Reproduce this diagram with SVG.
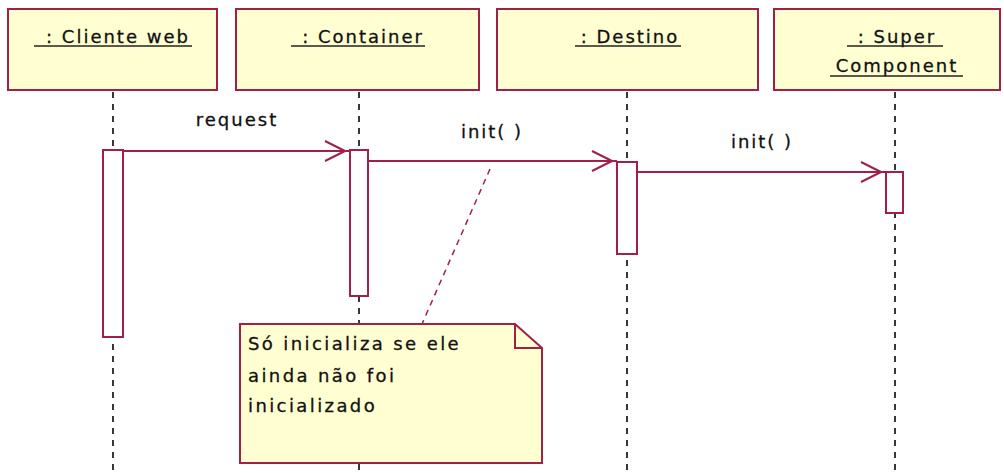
<svg xmlns="http://www.w3.org/2000/svg" width="1004" height="473" viewBox="0 0 1004 473">
<style>
.box{fill:#FFFFD2;stroke:#A0204A;stroke-width:2}
.t{font-family:"DejaVu Sans",sans-serif;font-size:18px;fill:#111;letter-spacing:2px;stroke:#111;stroke-width:0.3}
.ul{stroke:#222;stroke-width:1.5}
.life{stroke:#222;stroke-width:1.8;stroke-dasharray:6,6}
.act{fill:#fff;stroke:#A0204A;stroke-width:2}
.msg{stroke:#A0204A;stroke-width:2;fill:none}
.anchor{stroke:#A0204A;stroke-width:1.5;stroke-dasharray:6,5;fill:none}
</style>
<rect width="1004" height="473" fill="#fff"/>
<g id="lifelines">
<line class="life" x1="113" y1="92" x2="113" y2="473"/>
<line class="life" x1="359" y1="92" x2="359" y2="473"/>
<line class="life" x1="627" y1="92" x2="627" y2="473"/>
<line class="life" x1="895" y1="92" x2="895" y2="473"/>
</g>
<g id="obj-cliente">
<rect class="box" x="8" y="9" width="209" height="81"/>
<text class="t" x="118" y="43" text-anchor="middle">: Cliente web</text>
<line class="ul" x1="34" y1="46" x2="192" y2="46"/>
</g>
<g id="obj-container">
<rect class="box" x="236" y="9" width="243" height="81"/>
<text class="t" x="363" y="43" text-anchor="middle">: Container</text>
<line class="ul" x1="291" y1="46" x2="425" y2="46"/>
</g>
<g id="obj-destino">
<rect class="box" x="497" y="9" width="261" height="81"/>
<text class="t" x="630" y="43" text-anchor="middle">: Destino</text>
<line class="ul" x1="575" y1="46" x2="681" y2="46"/>
</g>
<g id="obj-super">
<rect class="box" x="774" y="9" width="226" height="81"/>
<text class="t" x="897" y="43" text-anchor="middle">: Super</text>
<line class="ul" x1="847" y1="46" x2="943" y2="46"/>
<text class="t" x="897" y="72" text-anchor="middle">Component</text>
<line class="ul" x1="830" y1="76" x2="963" y2="76"/>
</g>
<g id="activations">
<rect class="act" x="103" y="150" width="20" height="187"/>
<rect class="act" x="350" y="150" width="18" height="146"/>
<rect class="act" x="617" y="162" width="20" height="92"/>
<rect class="act" x="886" y="172" width="17" height="41"/>
</g>
<g id="connectors">
<path class="msg" d="M123 151 H350 M345 151 L325 141 M345 151 L325 161"/>
<path class="msg" d="M368 161 H617 M612 161 L592 151 M612 161 L592 171"/>
<path class="msg" d="M637 172 H886 M881 172 L861 162 M881 172 L861 182"/>
<line class="anchor" x1="490" y1="169" x2="422" y2="324"/>
</g>
<g id="labels">
<text class="t" x="237" y="126" text-anchor="middle">request</text>
<text class="t" x="492" y="138" text-anchor="middle">init( )</text>
<text class="t" x="762" y="148" text-anchor="middle">init( )</text>
</g>
<g id="note">
<path class="box" d="M240 324 H515 L542 348 V463 H240 Z"/>
<path d="M515 324 V348 H542" fill="none" stroke="#A0204A" stroke-width="2"/>
<text class="t" x="248" y="350" style="letter-spacing:2.4px">Só inicializa se ele</text>
<text class="t" x="248" y="382" style="letter-spacing:2.4px">ainda não foi</text>
<text class="t" x="248" y="412" style="letter-spacing:2.4px">inicializado</text>
</g>
</svg>
